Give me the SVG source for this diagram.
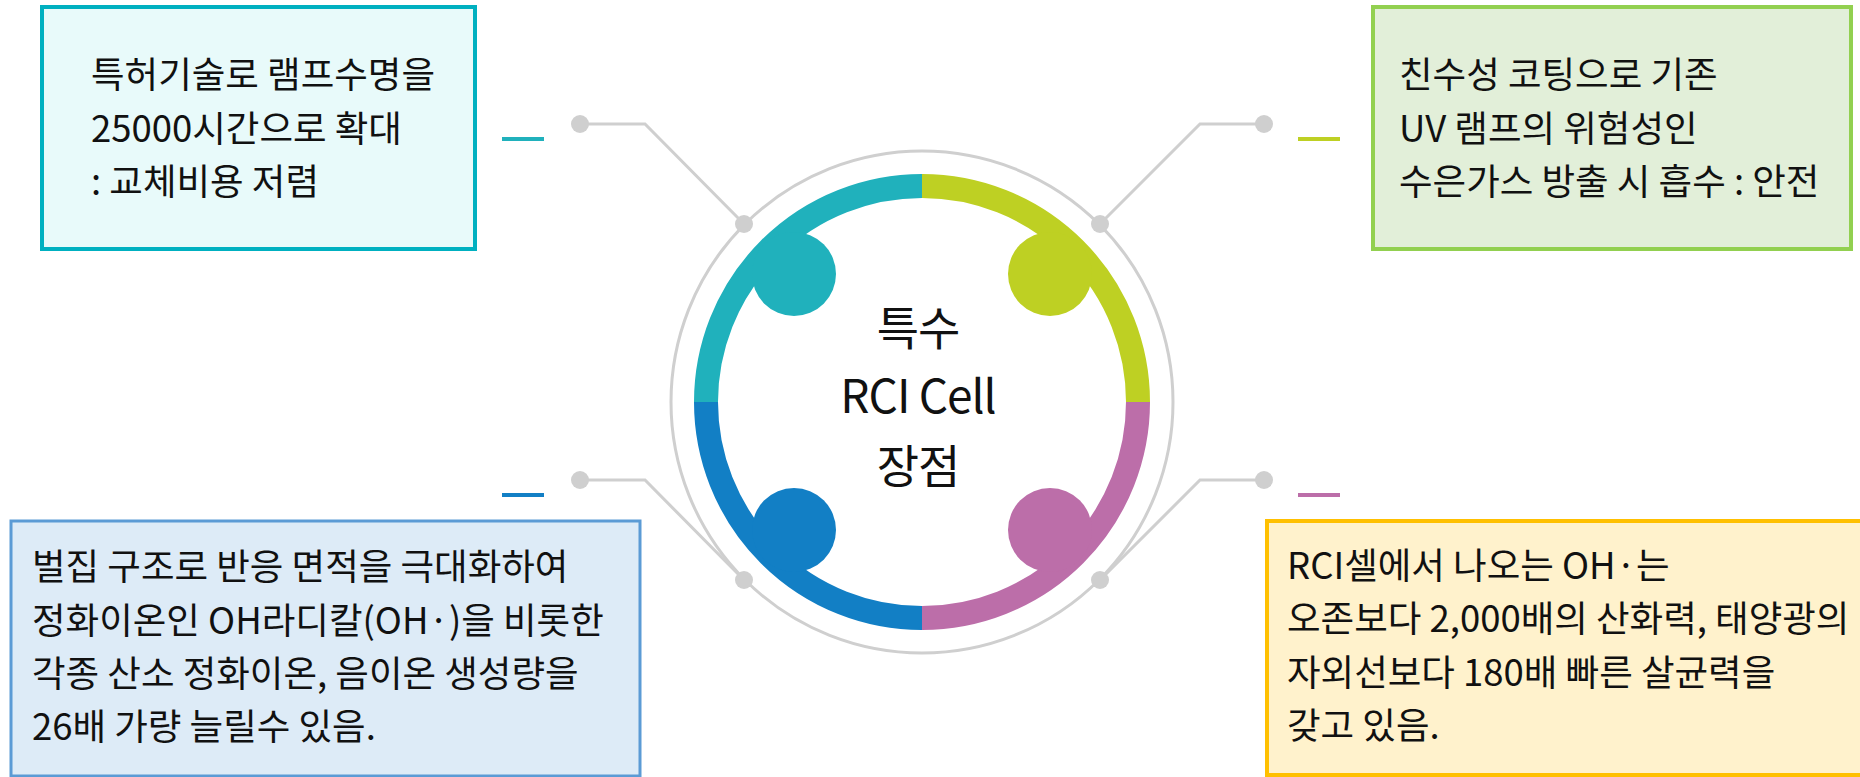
<svg xmlns="http://www.w3.org/2000/svg" width="1860" height="777" viewBox="0 0 1860 777">
<style>
.t{font-family:"Noto Sans CJK KR","Noto Sans",sans-serif;font-size:36.5px;fill:#111}
.c{font-family:"Noto Sans CJK KR","Noto Sans",sans-serif;font-size:46px;fill:#111;text-anchor:middle;letter-spacing:-1px}
.ln{fill:none;stroke:#cfcfcf;stroke-width:3}
.dot{fill:#cfcfcf}
.arc{fill:none;stroke-width:24}
</style>
<rect width="1860" height="777" fill="#fff"/>
<g id="ring">
<circle cx="922" cy="402" r="251" class="ln"/>
<path class="arc" stroke="#20b1bc" d="M706,402 A216,216 0 0 1 922,186"/>
<path class="arc" stroke="#bed023" d="M922,186 A216,216 0 0 1 1138,402"/>
<path class="arc" stroke="#bc6ea9" d="M1138,402 A216,216 0 0 1 922,618"/>
<path class="arc" stroke="#127fc5" d="M922,618 A216,216 0 0 1 706,402"/>
<circle cx="794" cy="274" r="42" fill="#20b1bc"/>
<circle cx="1050" cy="274" r="42" fill="#bed023"/>
<circle cx="794" cy="530" r="42" fill="#127fc5"/>
<circle cx="1050" cy="530" r="42" fill="#bc6ea9"/>
</g>
<g id="center">
<text class="c" x="918" y="345">특수</text>
<text class="c" x="918" y="413">RCI Cell</text>
<text class="c" x="918" y="483">장점</text>
</g>
<g id="connectors">
<polyline class="ln" points="580,124 645,124 744,224"/>
<polyline class="ln" points="1264,124 1200,124 1100,224"/>
<polyline class="ln" points="580,480 645,480 744,580"/>
<polyline class="ln" points="1264,480 1200,480 1100,580"/>
<circle class="dot" cx="580" cy="124" r="9"/>
<circle class="dot" cx="744" cy="224" r="9"/>
<circle class="dot" cx="1264" cy="124" r="9"/>
<circle class="dot" cx="1100" cy="224" r="9"/>
<circle class="dot" cx="580" cy="480" r="9"/>
<circle class="dot" cx="744" cy="580" r="9"/>
<circle class="dot" cx="1264" cy="480" r="9"/>
<circle class="dot" cx="1100" cy="580" r="9"/>
<line x1="502" y1="139" x2="544" y2="139" stroke="#20b1bc" stroke-width="4"/>
<line x1="1298" y1="139" x2="1340" y2="139" stroke="#bed023" stroke-width="4"/>
<line x1="502" y1="495" x2="544" y2="495" stroke="#127fc5" stroke-width="4"/>
<line x1="1298" y1="495" x2="1340" y2="495" stroke="#bc6ea9" stroke-width="4"/>
</g>
<g id="box1">
<rect x="42" y="7" width="433" height="242" fill="#e8fafa" stroke="#00b0c0" stroke-width="4"/>
<text class="t" x="91" y="88">특허기술로 램프수명을</text>
<text class="t" x="91" y="141.5">25000시간으로 확대</text>
<text class="t" x="91" y="195">: 교체비용 저렴</text>
</g>
<g id="box2">
<rect x="1373" y="7" width="478" height="242" fill="#e2efd9" stroke="#92d050" stroke-width="4"/>
<text class="t" x="1399" y="88">친수성 코팅으로 기존</text>
<text class="t" x="1399" y="141.5">UV 램프의 위험성인</text>
<text class="t" x="1399" y="195">수은가스 방출 시 흡수 : 안전</text>
</g>
<g id="box3">
<rect x="11" y="521" width="629" height="255" fill="#ddebf7" stroke="#5b9bd5" stroke-width="3"/>
<text class="t" x="32" y="580">벌집 구조로 반응 면적을 극대화하여</text>
<text class="t" x="32" y="633.5">정화이온인 OH라디칼(OH·)을 비롯한</text>
<text class="t" x="32" y="687">각종 산소 정화이온, 음이온 생성량을</text>
<text class="t" x="32" y="740">26배 가량 늘릴수 있음.</text>
</g>
<g id="box4">
<rect x="1267" y="521" width="620" height="254" fill="#fff2cc" stroke="#ffc000" stroke-width="4"/>
<text class="t" x="1287" y="579">RCI셀에서 나오는 OH·는</text>
<text class="t" x="1287" y="632">오존보다 2,000배의 산화력, 태양광의</text>
<text class="t" x="1287" y="685.5">자외선보다 180배 빠른 살균력을</text>
<text class="t" x="1287" y="739">갖고 있음.</text>
</g>
</svg>
